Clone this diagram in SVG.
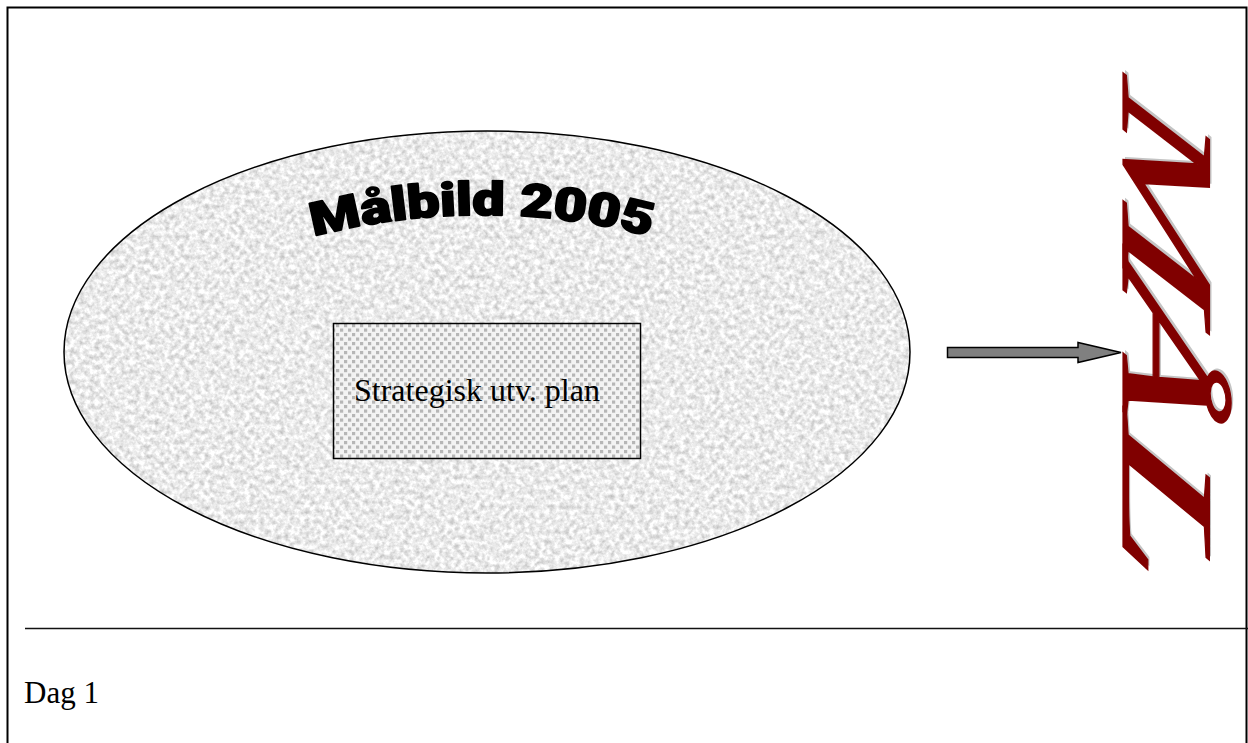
<svg xmlns="http://www.w3.org/2000/svg" width="1248" height="743" viewBox="0 0 1248 743">
  <defs>
    <style>
      .frame { stroke: #000; stroke-width: 2; fill: none; }
      .rule { stroke: #111; stroke-width: 1.6; fill: none; }
      .outline { stroke: #000; stroke-width: 1.5; fill: none; }
      .serif { font-family: "Liberation Serif", "Times New Roman", serif; fill: #000; }
      .title { font-family: "Roboto", "DejaVu Sans", sans-serif; font-weight: 900; fill: #000; stroke: #000; stroke-width: 1.8; stroke-linejoin: round; }
      .goal { font-family: "Liberation Serif", "Times New Roman", serif; font-style: italic; font-size: 132px; }
      .goal-ink { fill: #800000; stroke: #800000; stroke-width: 1.2; }
      .goal-shadow { fill: #c4c4c4; }
    </style>
    <!-- granite-like speckle for the large oval -->
    <filter id="granite" x="0" y="0" width="1" height="1" color-interpolation-filters="sRGB">
      <feTurbulence type="fractalNoise" baseFrequency="0.2" numOctaves="3" seed="7" result="noise"/>
      <feGaussianBlur in="noise" stdDeviation="0.5" result="soft"/>
      <feColorMatrix in="soft" type="matrix" values="0.42 0 0 0 0.71  0.42 0 0 0 0.71  0.42 0 0 0 0.71  0 0 0 0 1" result="grey"/>
      <feComposite in="grey" in2="SourceAlpha" operator="in"/>
    </filter>
    <!-- staggered dot screen for the plan box -->
    <pattern id="dots" width="8" height="9" patternUnits="userSpaceOnUse">
      <rect width="8" height="9" fill="#f3f3f3"/>
      <rect x="0" y="0" width="3.2" height="3.2" fill="#b6b6b6"/>
      <rect x="4" y="4.5" width="3.2" height="3.2" fill="#b6b6b6"/>
    </pattern>
    <!-- baseline arc for the arched heading -->
    <path id="arch" d="M 305 238.9 A 668 668 0 0 1 660 239.2"/>
    <!-- the goal word, letter by letter -->
    <g id="goalword">
      <text class="goal" x="0" y="0">M</text>
      <text class="goal" x="96" y="0">Å</text>
      <text class="goal" x="0" y="0" transform="translate(176,0) scale(1.16,1)">L</text>
    </g>
  </defs>

  <rect width="1248" height="743" fill="#fff"/>

  <!-- page frame -->
  <g id="frame">
    <path class="frame" d="M 7.5 743 V 7.5 H 1246.5 V 743"/>
    <line class="rule" x1="25" y1="628.5" x2="1248" y2="628.5"/>
  </g>

  <!-- large oval -->
  <g id="malbild">
    <ellipse cx="487" cy="352" rx="423" ry="221" fill="#ebebeb" filter="url(#granite)"/>
    <ellipse class="outline" cx="487" cy="352" rx="423" ry="221"/>
    <text class="title" font-size="46">
      <textPath href="#arch" startOffset="9" textLength="340" lengthAdjust="spacingAndGlyphs">Målbild 2005</textPath>
    </text>
  </g>

  <!-- inner plan box -->
  <g id="plan">
    <rect x="333.5" y="323.5" width="307" height="135" fill="url(#dots)"/>
    <rect class="outline" x="333.5" y="323.5" width="307" height="135"/>
    <text class="serif" x="354" y="401" font-size="32">Strategisk utv. plan</text>
  </g>

  <!-- vertical goal word with drop shadow -->
  <g id="mal">
    <g transform="translate(1124.6,73) rotate(90) scale(1.9,1) skewX(-13)">
      <use href="#goalword" class="goal-shadow"/>
    </g>
    <g transform="translate(1123,76) rotate(90) scale(1.9,1) skewX(-13)">
      <use href="#goalword" class="goal-ink"/>
    </g>
  </g>

  <!-- connectors -->
  <g id="connectors">
    <path d="M 947.5 347.5 H 1078 V 342.5 L 1121 352.5 L 1078 362.5 V 357.5 H 947.5 Z" fill="#808080" stroke="#000" stroke-width="1.5" stroke-linejoin="miter"/>
  </g>

  <!-- footer -->
  <g id="footer">
    <text class="serif" x="24" y="703" font-size="31">Dag 1</text>
  </g>
</svg>
